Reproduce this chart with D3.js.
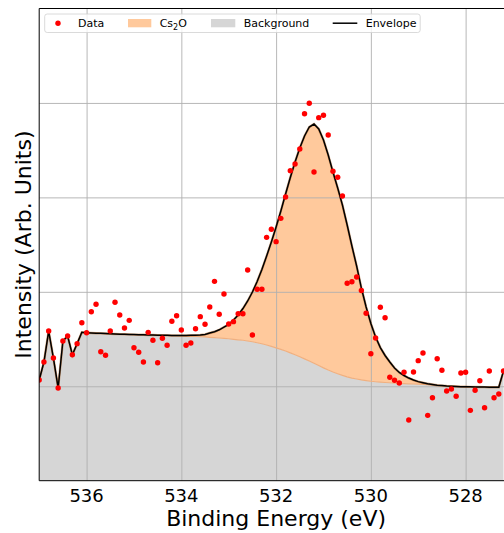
<!DOCTYPE html>
<html>
<head>
<meta charset="utf-8">
<script src="https://cdn.jsdelivr.net/npm/d3@7"></script>
<style>
  body { margin: 0; background: #fff; }
  text { font-family: "DejaVu Sans", sans-serif; }
</style>
</head>
<body>
<svg id="chart"></svg>
<script>
// binding energy of each measured point (eV)
const energy = [537.0,536.9,536.8,536.7,536.6,536.5,536.4,536.3,536.2,536.1,
  536.0,535.9,535.8,535.7,535.6,535.5,535.4,535.3,535.2,535.1,
  535.0,534.9,534.8,534.7,534.6,534.5,534.4,534.3,534.2,534.1,
  534.0,533.9,533.8,533.7,533.6,533.5,533.4,533.3,533.2,533.1,
  533.0,532.9,532.8,532.7,532.6,532.5,532.4,532.3,532.2,532.1,
  532.0,531.9,531.8,531.7,531.6,531.5,531.4,531.3,531.2,531.1,
  531.0,530.9,530.8,530.7,530.6,530.5,530.4,530.3,530.2,530.1,
  530.0,529.9,529.8,529.7,529.6,529.5,529.4,529.3,529.2,529.1,
  529.0,528.9,528.8,528.7,528.6,528.5,528.4,528.3,528.2,528.1,
  528.0,527.9,527.8,527.7,527.6,527.5,527.4,527.3,527.2];

const counts = [1.066,1.257,1.585,1.299,0.982,1.479,1.532,1.334,1.451,1.673,
  1.567,1.789,1.868,1.366,1.328,1.585,1.889,1.755,1.617,1.698,
  1.408,1.360,1.257,1.571,1.487,1.249,1.508,1.434,1.688,1.747,
  1.596,1.434,1.458,1.609,1.737,1.656,1.839,2.111,1.762,1.977,
  1.659,1.684,1.768,1.768,2.231,1.543,2.027,2.027,2.577,2.662,
  2.531,2.778,3.004,3.283,3.353,3.512,3.886,3.996,3.269,3.844,
  3.869,3.660,3.276,3.213,3.015,2.090,2.107,2.157,2.014,1.773,
  1.345,1.511,1.836,1.726,1.095,1.063,1.035,1.148,0.643,1.151,
  1.271,1.352,0.692,0.879,1.292,1.169,0.950,0.971,0.894,1.140,
  1.148,0.745,0.957,1.059,0.773,1.162,0.879,0.918,1.162];

const background = [1.066,1.257,1.585,1.299,0.982,1.479,1.532,1.334,1.451,1.571,
  1.567,1.564,1.562,1.560,1.558,1.555,1.553,1.552,1.550,1.549,
  1.547,1.546,1.545,1.543,1.542,1.541,1.540,1.539,1.536,1.535,
  1.533,1.531,1.529,1.527,1.524,1.522,1.518,1.515,1.511,1.507,
  1.503,1.497,1.492,1.487,1.479,1.471,1.461,1.450,1.437,1.423,
  1.407,1.391,1.373,1.354,1.334,1.313,1.290,1.267,1.243,1.219,
  1.195,1.172,1.151,1.132,1.115,1.100,1.087,1.077,1.067,1.060,
  1.053,1.048,1.044,1.040,1.037,1.033,1.030,1.028,1.026,1.024,
  1.022,1.020,1.018,1.014,1.010,1.006,1.003,1.001,0.998,0.996,
  0.995,0.994,0.993,0.992,0.991,0.990,0.990,0.989,1.162];

const envelope = [1.066,1.257,1.585,1.299,0.982,1.479,1.532,1.334,1.451,1.571,
  1.567,1.564,1.562,1.560,1.558,1.555,1.553,1.552,1.550,1.549,
  1.547,1.546,1.545,1.543,1.542,1.541,1.540,1.539,1.537,1.537,
  1.537,1.537,1.539,1.541,1.543,1.549,1.564,1.577,1.598,1.627,
  1.654,1.702,1.755,1.823,1.903,1.998,2.109,2.236,2.379,2.528,
  2.686,2.856,3.036,3.211,3.375,3.523,3.650,3.745,3.777,3.724,
  3.608,3.449,3.269,3.099,2.919,2.708,2.485,2.273,2.040,1.839,
  1.665,1.522,1.410,1.326,1.257,1.193,1.146,1.114,1.087,1.066,
  1.049,1.037,1.026,1.018,1.011,1.007,1.003,1.001,0.998,0.996,
  0.995,0.994,0.993,0.992,0.991,0.990,0.990,0.989,1.162];

const xTicks = [536, 534, 532, 530, 528];
const yTicks = [1, 2, 3, 4];

let svg = d3.select("svg#chart").attr("width", 504).attr("height", 533);
let plot = { left: 39.2, right: 513, top: 8.5, bottom: 480.7 };
let w = plot.right - plot.left, h = plot.bottom - plot.top;

let xScale = d3.scaleLinear().domain([537, 527]).range([plot.left, plot.right]);
let yScale = d3.scaleLinear().domain([0, 5]).range([plot.bottom, plot.top]);

svg.append("defs").append("clipPath").attr("id", "clip")
  .append("rect").attr("x", plot.left).attr("y", plot.top).attr("width", w).attr("height", h);

let idx = d3.range(energy.length);
let g = svg.append("g").attr("clip-path", "url(#clip)");

// background area (gray) and Cs2O component (orange)
let bgArea = d3.area().x(i => xScale(energy[i])).y0(yScale(0)).y1(i => yScale(background[i]));
g.append("path").datum(idx).attr("d", bgArea).attr("fill", "#d6d6d6");

let peakArea = d3.area().x(i => xScale(energy[i])).y0(i => yScale(background[i])).y1(i => yScale(envelope[i]));
g.append("path").datum(idx).attr("d", peakArea).attr("fill", "#ffc99c");

// grid
let xGrid = d3.axisBottom(xScale).tickValues(xTicks).tickSize(-h).tickFormat("");
let yGrid = d3.axisLeft(yScale).tickValues(yTicks).tickSize(-w).tickFormat("");
g.append("g").attr("class", "grid").attr("transform", "translate(0," + plot.bottom + ")").call(xGrid);
g.append("g").attr("class", "grid").attr("transform", "translate(" + plot.left + ",0)").call(yGrid);
svg.selectAll(".grid .domain").remove();
svg.selectAll(".grid line").attr("stroke", "#b0b0b0").attr("stroke-width", 0.9);

// edge of the orange fill along the background
let bgLine = d3.line().x(i => xScale(energy[i])).y(i => yScale(background[i]));
g.append("path").datum(idx).attr("d", bgLine).attr("fill", "none")
  .attr("stroke", "#f0b080").attr("stroke-width", 1.2);

let envLine = d3.line().x(i => xScale(energy[i])).y(i => yScale(envelope[i]));
g.append("path").datum(idx).attr("d", envLine).attr("fill", "none")
  .attr("stroke", "#b06020").attr("stroke-width", 2.4).attr("stroke-opacity", 0.5);
g.append("path").datum(idx).attr("d", envLine).attr("fill", "none")
  .attr("stroke", "#000").attr("stroke-width", 1.5);

g.selectAll("circle.pt").data(idx).enter().append("circle")
  .attr("class", "pt")
  .attr("cx", i => xScale(energy[i]))
  .attr("cy", i => yScale(counts[i]))
  .attr("r", 2.7)
  .attr("fill", "#ff0000");

// spines
svg.append("line").attr("x1", plot.left).attr("x2", plot.left).attr("y1", plot.top).attr("y2", plot.bottom)
  .attr("stroke", "#000").attr("stroke-width", 1);
svg.append("line").attr("x1", plot.left).attr("x2", plot.right).attr("y1", plot.top).attr("y2", plot.top)
  .attr("stroke", "#000").attr("stroke-width", 1);
svg.append("line").attr("x1", plot.left).attr("x2", plot.right).attr("y1", plot.bottom).attr("y2", plot.bottom)
  .attr("stroke", "#000").attr("stroke-width", 1);

// tick labels
svg.selectAll("text.xtick").data(xTicks).enter().append("text")
  .attr("class", "xtick")
  .attr("x", d => xScale(d)).attr("y", 502)
  .attr("text-anchor", "middle").style("font-size", "18px").attr("fill", "#000")
  .text(d => d);

svg.append("text").attr("x", (plot.left + plot.right) / 2).attr("y", 526)
  .attr("text-anchor", "middle").style("font-size", "22px").text("Binding Energy (eV)");
svg.append("text").attr("transform", "translate(31," + ((plot.top + plot.bottom) / 2) + ")rotate(-90)")
  .attr("text-anchor", "middle").style("font-size", "22px").text("Intensity (Arb. Units)");

// legend
let lg = svg.append("g");
lg.append("rect").attr("x", 44.7).attr("y", 14).attr("width", 375.5).attr("height", 18.5)
  .attr("rx", 2.5).attr("fill", "#fff").attr("fill-opacity", 0.8).attr("stroke", "#d0d0d0").attr("stroke-width", 0.8);
lg.append("circle").attr("cx", 58).attr("cy", 23.2).attr("r", 2.7).attr("fill", "#ff0000");
lg.append("text").attr("x", 78).attr("y", 27.2).style("font-size", "11px").text("Data");
lg.append("rect").attr("x", 128).attr("y", 19).attr("width", 23.3).attr("height", 8.3).attr("fill", "#ffc99c");
let cs = lg.append("text").attr("x", 159.7).attr("y", 27.2).style("font-size", "11px");
cs.append("tspan").text("Cs");
cs.append("tspan").attr("dy", 2.5).style("font-size", "8px").text("2");
cs.append("tspan").attr("dy", -2.5).text("O");
lg.append("rect").attr("x", 211).attr("y", 19).attr("width", 24.3).attr("height", 8.3).attr("fill", "#d6d6d6");
lg.append("text").attr("x", 243.7).attr("y", 27.2).style("font-size", "11px").text("Background");
lg.append("line").attr("x1", 332.7).attr("x2", 357.3).attr("y1", 23.2).attr("y2", 23.2)
  .attr("stroke", "#000").attr("stroke-width", 1.5);
lg.append("text").attr("x", 365.7).attr("y", 27.2).style("font-size", "11px").text("Envelope");
</script>
</body>
</html>
